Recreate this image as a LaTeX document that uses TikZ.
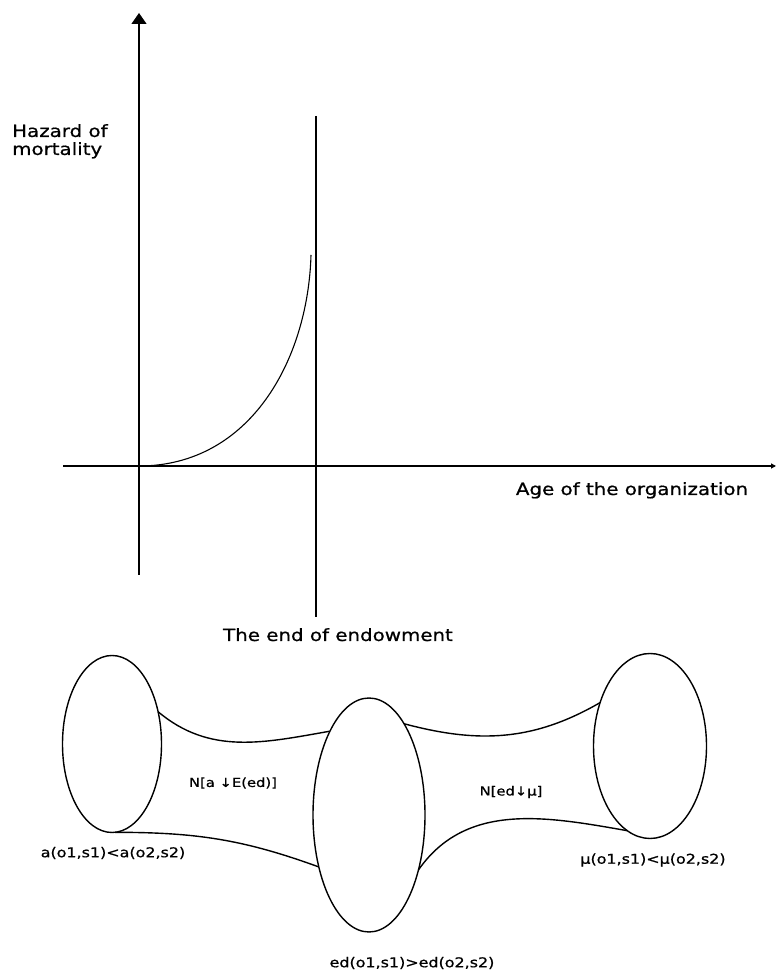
\documentclass[tikz,border=0pt]{standalone}
\usepackage{fontspec}
\setmainfont{DejaVu Sans}[FakeStretch=1.18, FakeBold=0.8]
\usetikzlibrary{arrows.meta,shapes.geometric}

\begin{document}
\begin{tikzpicture}[x=1pt,y=1pt,
  big/.style={font=\fontsize{16.8}{18}\selectfont, inner sep=0pt},
  rel/.style={font=\fontsize{13.5}{15}\selectfont, inner sep=0pt},
  flow/.style={font=\fontsize{12.5}{14}\selectfont, inner sep=0pt},
  set/.style={draw, ellipse, inner sep=0pt, outer sep=0pt, line width=1.4pt},
  tube/.style={line width=1.4pt}]
\useasboundingbox (0,0) rectangle (776,971);
% the hazard curve
\coordinate (o) at (139,505);
\coordinate (ybot) at (139,396);
\coordinate (ytop) at (139,958);
\coordinate (xleft) at (63,505);
\coordinate (xright) at (776,505);
\coordinate (etop) at (316,855);
\coordinate (ebot) at (316,354);
\coordinate (peak) at (311,716);
\draw[line width=1.1pt, -{Triangle[length=11pt,width=15pt]}] (ybot)--(ytop);
\draw[line width=1.1pt, -{Triangle[length=5pt,width=5pt]}] (xleft)--(xright);
\draw[line width=1.1pt] (etop)--(ebot);
\draw[line width=1.1pt] (o) .. controls (250,505) and (308,611) .. (peak);
\node[big, align=left, anchor=north west] (hazard) at (12,847) {Hazard of\\mortality};
\node[big, anchor=base] (age) at (632,476) {Age of the organization};
\node[big, anchor=base] (end) at (338,330) {The end of endowment};
% the three sets
\node[set, minimum width=99pt, minimum height=177pt] (aset) at (112,227) {};
\node[set, minimum width=112pt, minimum height=234pt] (edset) at (369,156) {};
\node[set, minimum width=113pt, minimum height=185pt] (muset) at (650,225) {};
\draw[tube] (aset.35) to[out=-40, in=190] (edset.115);
\draw[tube] (aset.-88) to[out=0, in=160] (edset.226);
\draw[tube] (edset.69) to[out=-15, in=210] (muset.139);
\draw[tube] (edset.-48) to[out=55, in=170] (muset.255);
\node[flow] (naed) at (233,188) {N[a ↓E(ed)]};
\node[flow] (nedmu) at (511,179) {N[ed↓μ]};
\node[rel] (alab) at (113,118) {a(o1,s1)<a(o2,s2)};
\node[rel] (edlab) at (412,8) {ed(o1,s1)>ed(o2,s2)};
\node[rel] (mulab) at (653,111) {μ(o1,s1)<μ(o2,s2)};
\end{tikzpicture}
\end{document}
